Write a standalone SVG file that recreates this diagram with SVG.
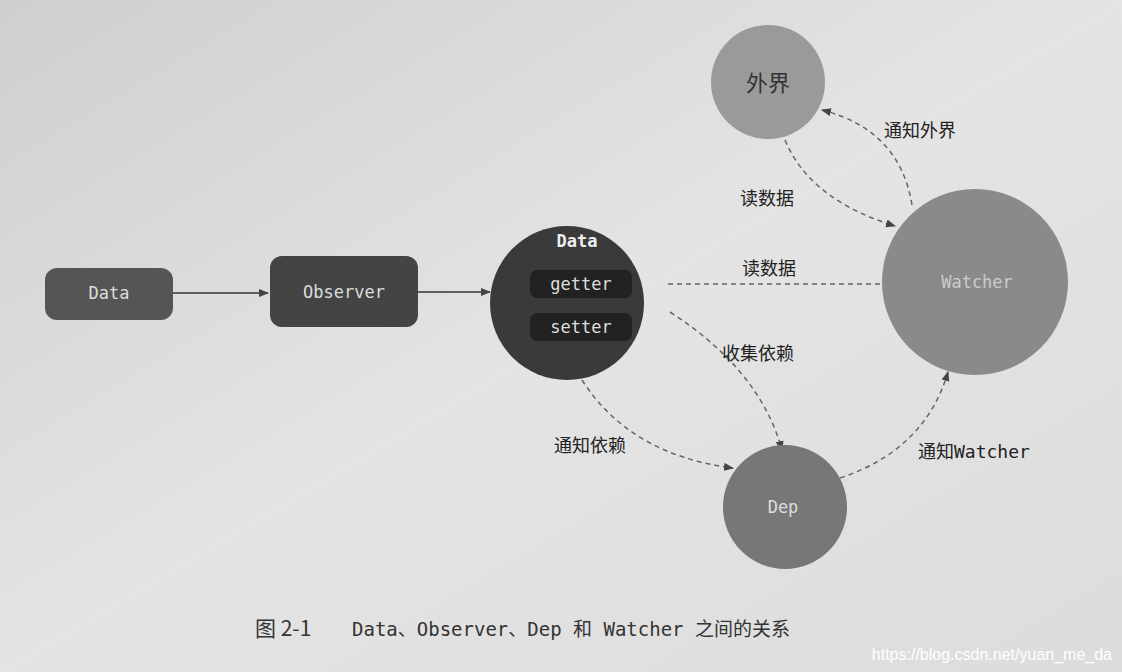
<svg xmlns="http://www.w3.org/2000/svg" width="1122" height="672" viewBox="0 0 1122 672">
<defs>
<linearGradient id="bg" x1="0" y1="0" x2="1" y2="1"><stop offset="0" stop-color="#cfcfcf"/><stop offset="0.5" stop-color="#e4e4e4"/><stop offset="1" stop-color="#dcdcdc"/></linearGradient>
<marker id="ah" markerWidth="10" markerHeight="8" refX="9" refY="4" orient="auto" markerUnits="userSpaceOnUse"><path d="M0,0 L10,4 L0,8 Z" fill="#444"/></marker>
</defs>
<style>
.lbl{font-family:"DejaVu Sans Mono","Noto Sans CJK SC",monospace;font-size:18px;fill:#222}
.mono{font-family:"DejaVu Sans Mono","Liberation Mono",monospace;font-size:17px;text-anchor:middle}
.solid{stroke:#333;stroke-width:1.5;fill:none}
.dash{stroke:#666;stroke-width:1.5;fill:none;stroke-dasharray:5 4}
</style>
<rect width="1122" height="672" fill="url(#bg)"/>
<g id="connectors">
<line class="solid" x1="173" y1="293" x2="268" y2="293" marker-end="url(#ah)"/>
<line class="solid" x1="418" y1="292" x2="490" y2="292" marker-end="url(#ah)"/>
<line class="dash" x1="668" y1="284" x2="880" y2="284"/>
<path class="dash" d="M785,140 Q810,200 895,226" marker-end="url(#ah)"/>
<path class="dash" d="M912,205 Q900,130 822,110" marker-end="url(#ah)"/>
<path class="dash" d="M670,312 Q760,370 782,450" marker-end="url(#ah)"/>
<path class="dash" d="M582,380 Q630,455 733,468" marker-end="url(#ah)"/>
<path class="dash" d="M840,478 Q925,450 948,372" marker-end="url(#ah)"/>
<text class="lbl" x="742" y="275">读数据</text>
<text class="lbl" x="740" y="205">读数据</text>
<text class="lbl" x="884" y="137">通知外界</text>
<text class="lbl" x="722" y="360">收集依赖</text>
<text class="lbl" x="554" y="452">通知依赖</text>
<text class="lbl" x="918" y="458">通知Watcher</text>
</g>
<g id="data-box"><rect x="45" y="268" width="128" height="52" rx="12" fill="#555"/><text class="mono" x="109" y="299" fill="#ddd">Data</text></g>
<g id="observer"><rect x="270" y="256" width="148" height="71" rx="12" fill="#444"/><text class="mono" x="344" y="298" fill="#ddd">Observer</text></g>
<g id="data-circle"><circle cx="567" cy="303" r="77" fill="#3a3a3a"/><text class="mono" x="577" y="247" fill="#eee" font-weight="bold">Data</text>
<rect x="530" y="270" width="102" height="28" rx="7" fill="#222"/><text class="mono" x="581" y="290" fill="#ddd">getter</text>
<rect x="530" y="313" width="102" height="28" rx="7" fill="#222"/><text class="mono" x="581" y="333" fill="#ddd">setter</text></g>
<g id="outside"><circle cx="768" cy="82" r="57" fill="#9a9a9a"/><text x="768" y="91" text-anchor="middle" font-family="Noto Sans CJK SC, sans-serif" font-size="22" fill="#333">外界</text></g>
<g id="watcher"><circle cx="975" cy="282" r="93" fill="#8a8a8a"/><text class="mono" x="977" y="288" fill="#ccc">Watcher</text></g>
<g id="dep"><circle cx="785" cy="507" r="62" fill="#777"/><text class="mono" x="783" y="513" fill="#ddd">Dep</text></g>
<text x="255" y="636" font-family="Noto Sans CJK SC, sans-serif" font-size="21" fill="#333">图 2-1<tspan x="352" font-family="DejaVu Sans Mono, Noto Sans CJK SC, monospace" font-size="19">Data、Observer、Dep 和 Watcher 之间的关系</tspan></text>
<text x="1112" y="660" text-anchor="end" font-family="Liberation Sans, sans-serif" font-size="16" fill="#fff">https://blog.csdn.net/yuan_me_da</text>
</svg>
